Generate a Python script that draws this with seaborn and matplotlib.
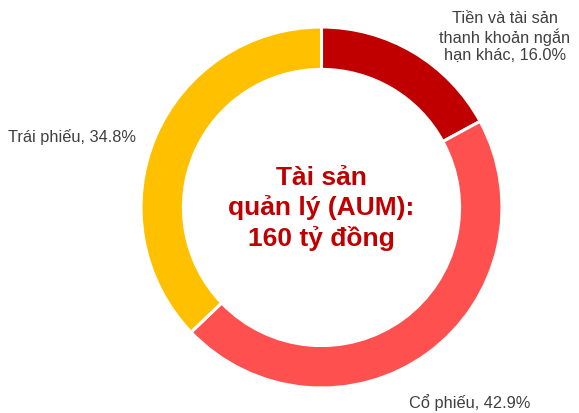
import matplotlib
matplotlib.use("Agg")
import matplotlib.pyplot as plt
import seaborn as sns

categories = ["Tiền và tài sản\nthanh khoản ngắn\nhạn khác", "Cổ phiếu", "Trái phiếu"]
values = [16.0, 42.9, 34.8]
colors = ["#C00000", "#FF5050", "#FFC000"]
center_title = "Tài sản\nquản lý (AUM):\n160 tỷ đồng"

sns.set_theme(style="white")
plt.rcParams['font.family'] = ['Liberation Sans', 'DejaVu Sans']

W, H = 579, 414
fig = plt.figure(figsize=(W / 100, H / 100), dpi=100)
fig.patch.set_facecolor("white")

cx, cy, r = 321.5, 208.5, 180.5
ax = fig.add_axes([(cx - r) / W, (H - cy - r) / H, 2 * r / W, 2 * r / H])
ax.pie(values, colors=colors, startangle=90, counterclock=False, radius=1.0,
       wedgeprops=dict(width=0.235, edgecolor="white", linewidth=2.2))
ax.set_xlim(-1, 1)
ax.set_ylim(-1, 1)
ax.set_aspect("equal")
ax.axis("off")

ax.text(0, 0, center_title, ha="center", va="center", fontsize=19, fontweight="bold",
        color="#C00000", linespacing=1.3)

label_color = "#404040"
labels = [f"{c}, {v:.1f}%" for c, v in zip(categories, values)]
pos = [(505, 37, "center"), (470, 403, "center"), (71.5, 137, "center")]
for txt, (x, y, ha) in zip(labels, pos):
    fig.text(x / W, 1 - y / H, txt, ha=ha, va="center", fontsize=11.8,
             color=label_color, linespacing=1.15, multialignment="center")

fig.savefig("out.png", dpi=100)
